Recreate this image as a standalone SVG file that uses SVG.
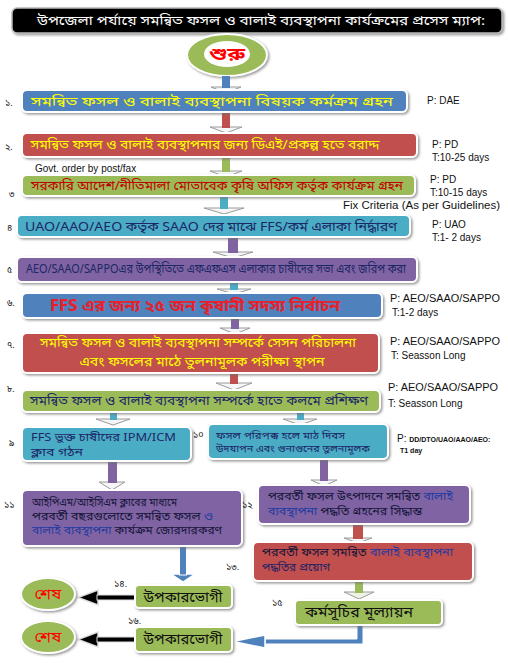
<svg xmlns="http://www.w3.org/2000/svg" width="508" height="663" viewBox="0 0 508 663">
<defs>
<filter id="sh" x="-5%" y="-10%" width="115%" height="140%"><feDropShadow dx="1.5" dy="1.5" stdDeviation="1" flood-color="#6f6f6f" flood-opacity="0.7"/></filter>
<style>
.b{stroke:#fff;stroke-width:2;filter:url(#sh)}
.blue{fill:#4f81bd}.red{fill:#c0504d}.green{fill:#9bbb59}.cyan{fill:#4bacc6}.purple{fill:#8064a2}
.bn{font-family:"Noto Sans Bengali","Noto Serif Bengali","Lohit Bengali","FreeSans","Noto Sans",sans-serif;font-size:12px}
.lat{font-family:"Liberation Sans","Open Sans",sans-serif;font-size:10px;fill:#111}
.num{font-family:"Noto Sans Bengali","Noto Sans",sans-serif;font-size:9px;fill:#111}
.yl{fill:#ffff00}.nv{fill:#1c2766}.dk{fill:#15153a}.bl{fill:#1f3aa0}
.hd{fill:#f4f6f8;stroke:#9a9a9a;stroke-width:1}
</style>
</defs>

<g id="title">
<rect x="12" y="8" width="490" height="25" rx="5" fill="#000" stroke="#bbb" stroke-width="1.5" filter="url(#sh)"/>
<text class="bn" x="261" y="25" text-anchor="middle" fill="#fff" textLength="448" lengthAdjust="spacingAndGlyphs">উপজেলা পর্যায়ে সমন্বিত ফসল ও বালাই ব্যবস্থাপনা কার্যক্রমের প্রসেস ম্যাপ:</text>
</g>

<g id="start">
<ellipse cx="227" cy="55" rx="40" ry="21" class="b green"/>
<ellipse cx="227" cy="54" rx="23" ry="13" fill="#fff"/>
<text class="bn" x="227" y="60" text-anchor="middle" fill="#ff0000" style="font-size:18px;font-weight:bold" textLength="36" lengthAdjust="spacingAndGlyphs">শুরু</text>
</g>

<g id="connectors">
<polygon class="hd" points="211,87 241,87 226,93"/><rect x="222" y="76" width="8" height="12" fill="#4f81bd"/>
<polygon class="hd" points="210,127 242,127 226,133"/><rect x="222" y="112" width="8" height="16" fill="#c0504d"/>
<polygon class="hd" points="210,171 242,171 226,177"/><rect x="222" y="157" width="8" height="15" fill="#9bbb59"/>
<polygon class="hd" points="204,208 244,208 224,214"/><rect x="220" y="196" width="8" height="13" fill="#4bacc6"/>
<polygon class="hd" points="213,252 253,252 233,258"/><rect x="228" y="237" width="10" height="16" fill="#8064a2"/>
<polygon class="hd" points="217,289 251,289 234,294"/><rect x="230" y="282" width="8" height="8" fill="#4bacc6"/>
<polygon class="hd" points="220,328 250,328 235,334"/><rect x="231" y="318" width="8" height="11" fill="#8064a2"/>
<polygon class="hd" points="216,383 252,383 234,390"/><rect x="230" y="373" width="8" height="11" fill="#c0504d"/>
<polygon class="hd" points="96,419 130,419 113,425"/><rect x="110" y="412" width="7" height="8" fill="#4bacc6"/>
<polygon class="hd" points="283,419 317,419 300,425"/><rect x="297" y="412" width="7" height="8" fill="#4bacc6"/>
<polygon class="hd" points="99,482 125,482 112,490"/><rect x="108" y="461" width="9" height="22" fill="#8064a2"/>
<polygon class="hd" points="311,480 337,480 324,486"/><rect x="320" y="459" width="8" height="22" fill="#8064a2"/>
<polygon class="hd" points="344,538 372,538 358,543"/><rect x="353" y="524" width="10" height="15" fill="#c0504d"/>
<polygon points="171,574 195,574 183,582" fill="#4f81bd" stroke="#fff" stroke-width="1.5"/><rect x="179.5" y="546" width="7" height="29" fill="#4f81bd" stroke="#fff" stroke-width="1"/>
<polygon points="344,592 374,592 359,599" fill="#eef3e4" stroke="#9a9a9a" stroke-width="1"/><rect x="355" y="581" width="8" height="12" fill="#9bbb59"/>
<polygon points="98,590 98,605 78,597.5" fill="#000" stroke="#ddd" stroke-width="1.5"/><rect x="97" y="595" width="41" height="5" fill="#000" stroke="#ddd" stroke-width="1"/>
<polygon points="98,632 98,647 78,639.5" fill="#000" stroke="#ddd" stroke-width="1.5"/><rect x="97" y="637" width="41" height="5" fill="#000" stroke="#ddd" stroke-width="1"/>
<path d="M357,624 V639 H265 V644 H363 V624 Z" fill="#4f81bd" stroke="#fff" stroke-width="1"/>
<polygon points="265,635 265,648 233,641.5" fill="#4f81bd" stroke="#fff" stroke-width="1.5"/>
</g>

<g id="n1">
<rect x="22" y="90" width="385" height="22" rx="5" class="b blue"/>
<text class="bn yl" x="212" y="106" text-anchor="middle" textLength="362" lengthAdjust="spacingAndGlyphs">সমন্বিত ফসল ও বালাই ব্যবস্থাপনা বিষয়ক কর্মক্রম গ্রহন</text>
<text class="num" x="5" y="106">১.</text>
<text class="lat" x="427" y="104">P: DAE</text>
</g>

<g id="n2">
<rect x="22" y="133" width="395" height="24" rx="5" class="b red"/>
<text class="bn yl" x="205" y="149" text-anchor="middle" textLength="349" lengthAdjust="spacingAndGlyphs">সমন্বিত ফসল ও বালাই ব্যবস্থাপনার জন্য ডিএই/প্রকল্প হতে বরাদ্দ</text>
<text class="num" x="5" y="150">২.</text>
<text class="lat" x="432" y="148">P: PD</text>
<text class="lat" x="432" y="161">T:10-25 days</text>
<text class="lat" x="35" y="172">Govt. order by post/fax</text>
</g>

<g id="n3">
<rect x="22" y="175" width="393" height="21" rx="5" class="b green"/>
<text class="bn" x="217" y="190" text-anchor="middle" fill="#c00000" textLength="372" lengthAdjust="spacingAndGlyphs">সরকারি আদেশ/নীতিমালা মোতাবেক কৃষি অফিস কর্তৃক কার্যক্রম গ্রহন</text>
<text class="num" x="9" y="197">৩</text>
<text class="lat" x="430" y="183">P: PD</text>
<text class="lat" x="430" y="196">T:10-15 days</text>
<text class="lat" x="343" y="209" textLength="157" lengthAdjust="spacingAndGlyphs">Fix Criteria (As per Guidelines)</text>
</g>

<g id="n4">
<rect x="17" y="215" width="393" height="22" rx="5" class="b cyan"/>
<text class="bn nv" x="211" y="231" text-anchor="middle" textLength="372" lengthAdjust="spacingAndGlyphs">UAO/AAO/AEO কর্তৃক SAAO দের মাঝে FFS/কর্ম এলাকা নির্দ্ধারণ</text>
<text class="num" x="7" y="231">৪</text>
<text class="lat" x="432" y="228">P: UAO</text>
<text class="lat" x="432" y="241">T:1- 2 days</text>
</g>

<g id="n5">
<rect x="17" y="257" width="400" height="25" rx="5" class="b purple"/>
<text class="bn nv" x="216" y="273" text-anchor="middle" textLength="380" lengthAdjust="spacingAndGlyphs">AEO/SAAO/SAPPOএর উপস্থিতিতে এফএফএস এলাকার চাষীদের সভা এবং জরিপ করা</text>
<text class="num" x="7" y="273">৫</text>
</g>

<g id="n6">
<rect x="22" y="293" width="360" height="25" rx="5" class="b blue"/>
<text class="bn" x="195" y="311" text-anchor="middle" fill="#e8202a" style="font-size:15px;font-weight:bold" textLength="290" lengthAdjust="spacingAndGlyphs">FFS এর জন্য ২৫ জন কৃষানী সদস্য নির্বাচন</text>
<text class="num" x="7" y="306">৬.</text>
<text class="lat" x="390" y="302" textLength="110" lengthAdjust="spacingAndGlyphs">P: AEO/SAAO/SAPPO</text>
<text class="lat" x="392" y="316">T:1-2 days</text>
</g>

<g id="n7">
<rect x="22" y="333" width="357" height="40" rx="5" class="b red"/>
<text class="bn yl" x="198" y="347" text-anchor="middle" textLength="316" lengthAdjust="spacingAndGlyphs">সমন্বিত ফসল ও বালাই ব্যবস্থাপনা সম্পর্কে সেসন পরিচালনা</text>
<text class="bn yl" x="202" y="366" text-anchor="middle" textLength="245" lengthAdjust="spacingAndGlyphs">এবং ফসলের মাঠে তুলনামূলক পরীক্ষা স্থাপন</text>
<text class="num" x="7" y="348">৭.</text>
<text class="lat" x="390" y="345" textLength="110" lengthAdjust="spacingAndGlyphs">P: AEO/SAAO/SAPPO</text>
<text class="lat" x="391" y="359">T: Seasson Long</text>
</g>

<g id="n8">
<rect x="22" y="390" width="358" height="22" rx="5" class="b green"/>
<text class="bn nv" x="199" y="405" text-anchor="middle" textLength="338" lengthAdjust="spacingAndGlyphs">সমন্বিত ফসল ও বালাই ব্যবস্থাপনা সম্পর্কে হাতে কলমে প্রশিক্ষণ</text>
<text class="num" x="7" y="392">৮.</text>
<text class="lat" x="388" y="391" textLength="110" lengthAdjust="spacingAndGlyphs">P: AEO/SAAO/SAPPO</text>
<text class="lat" x="388" y="407">T: Seasson Long</text>
</g>

<g id="n9">
<rect x="22" y="427" width="169" height="34" rx="5" class="b cyan"/>
<text class="bn nv" x="31" y="441" style="font-size:11px" textLength="145" lengthAdjust="spacingAndGlyphs">FFS ভুক্ত চাষীদের IPM/ICM</text>
<text class="bn nv" x="31" y="456" style="font-size:11px" textLength="52" lengthAdjust="spacingAndGlyphs">ক্লাব গঠন</text>
<text class="num" x="9" y="446">৯</text>
</g>

<g id="n10">
<rect x="208" y="424" width="180" height="35" rx="5" class="b cyan"/>
<text class="bn nv" x="216" y="439" style="font-size:10px" textLength="129" lengthAdjust="spacingAndGlyphs">ফসল পরিপক্ক হলে মাঠ দিবস</text>
<text class="bn nv" x="216" y="452" style="font-size:10px" textLength="154" lengthAdjust="spacingAndGlyphs">উদযাপন এবং গুনাগুনের তুলনামূলক</text>
<text class="num" x="193" y="438">১০</text>
<text class="lat" x="397" y="442">P: <tspan style="font-size:7px;font-weight:bold">DD/DTO/UAO/AAO/AEO:</tspan></text>
<text class="lat" x="400" y="453" style="font-size:7px;font-weight:bold">T1 day</text>
</g>

<g id="n11">
<rect x="22" y="490" width="220" height="56" rx="5" class="b purple"/>
<text class="bn dk" x="32" y="506" style="font-size:11px" textLength="145" lengthAdjust="spacingAndGlyphs">আইপিএম/আইসিএম ক্লাবের মাধ্যমে</text>
<text class="bn dk" x="32" y="520" style="font-size:11px" textLength="181" lengthAdjust="spacingAndGlyphs">পরবর্তী বছরগুলোতে সমন্বিত ফসল <tspan class="bl">ও</tspan></text>
<text class="bn dk" x="32" y="534" style="font-size:11px" textLength="190" lengthAdjust="spacingAndGlyphs"><tspan class="bl">বালাই ব্যবস্থাপনা</tspan> কার্যক্রম জোরদারকরণ</text>
<text class="num" x="4" y="508">১১</text>
</g>

<g id="n12">
<rect x="258" y="485" width="212" height="39" rx="5" class="b purple"/>
<text class="bn dk" x="268" y="500" style="font-size:11px" textLength="185" lengthAdjust="spacingAndGlyphs">পরবর্তী ফসল উৎপাদনে সমন্বিত <tspan class="bl">বালাই</tspan></text>
<text class="bn dk" x="268" y="515" style="font-size:11px" textLength="154" lengthAdjust="spacingAndGlyphs"><tspan class="bl">ব্যবস্থাপনা</tspan> পদ্ধতি গ্রহনের সিদ্ধান্ত</text>
<text class="num" x="242" y="508">১২</text>
</g>

<g id="n13">
<rect x="253" y="542" width="220" height="39" rx="5" class="b red"/>
<text class="bn dk" x="262" y="556" style="font-size:11px" textLength="191" lengthAdjust="spacingAndGlyphs">পরবর্তী ফসল সমন্বিত <tspan class="bl">বালাই ব্যবস্থাপনা</tspan></text>
<text class="bn" x="262" y="571" style="font-size:11px" fill="#1c2266" textLength="68" lengthAdjust="spacingAndGlyphs">পদ্ধতির প্রয়োগ</text>
<text class="num" x="226" y="570">১৩.</text>
</g>

<g id="n14">
<rect x="135" y="585" width="97" height="23" rx="4" class="b green"/>
<text class="bn" x="183" y="602" text-anchor="middle" style="font-size:14px" fill="#111" textLength="79" lengthAdjust="spacingAndGlyphs">উপকারভোগী</text>
<text class="num" x="114" y="587">১৪.</text>
</g>

<g id="end1">
<ellipse cx="48" cy="594" rx="27" ry="16" class="b green"/>
<text class="bn" x="48" y="599" text-anchor="middle" style="font-size:14px" fill="#ff0000" textLength="27" lengthAdjust="spacingAndGlyphs">শেষ</text>
</g>

<g id="n15">
<rect x="295" y="600" width="147" height="25" rx="4" class="b green"/>
<text class="bn" x="359" y="617" text-anchor="middle" style="font-size:14px" fill="#111" textLength="108" lengthAdjust="spacingAndGlyphs">কর্মসূচির মূল্যায়ন</text>
<text class="num" x="272" y="606">১৫</text>
</g>

<g id="n16">
<rect x="135" y="627" width="97" height="25" rx="4" class="b green"/>
<text class="bn" x="183" y="644" text-anchor="middle" style="font-size:14px" fill="#111" textLength="79" lengthAdjust="spacingAndGlyphs">উপকারভোগী</text>
<text class="num" x="128" y="624">১৬.</text>
</g>

<g id="end2">
<ellipse cx="48" cy="637" rx="27" ry="16" class="b green"/>
<text class="bn" x="48" y="642" text-anchor="middle" style="font-size:14px" fill="#ff0000" textLength="27" lengthAdjust="spacingAndGlyphs">শেষ</text>
</g>
</svg>
